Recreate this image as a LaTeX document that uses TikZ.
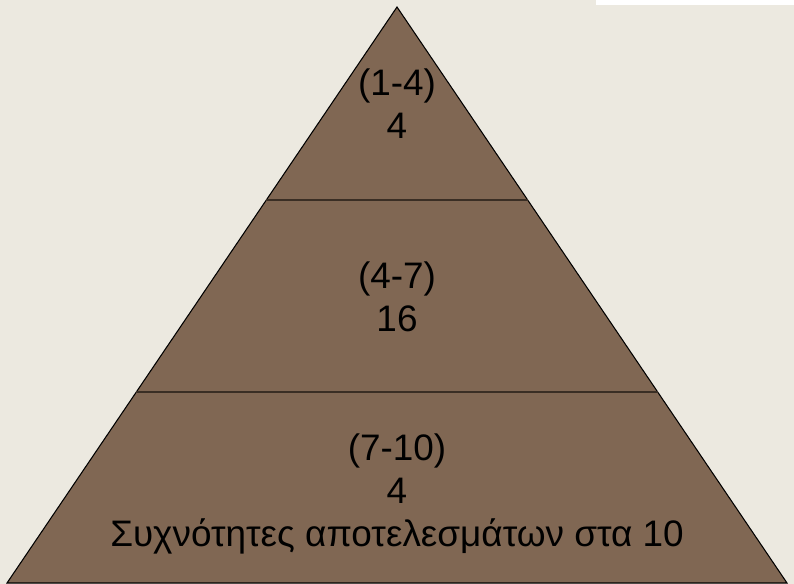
\documentclass[tikz,border=0pt]{standalone}
\usepackage{fontspec}
\setmainfont{Liberation Sans}
\usetikzlibrary{calc}
\definecolor{slidebg}{RGB}{236,233,224}
\definecolor{pyrfill}{RGB}{128,103,83}
\definecolor{tierline}{RGB}{58,46,36}
\tikzset{tier/.style={align=center, font=\fontsize{21}{24.4}\selectfont, inner sep=0pt}}

\begin{document}
\begin{tikzpicture}[x=0.02cm, y=-0.02cm]
% Background
\fill[slidebg] (0,0) rectangle (794,584);
\useasboundingbox (0,0) rectangle (794,584);
\fill[white] (596,0) rectangle (794,5);

% Pyramid
\coordinate (apex) at (397,7);
\coordinate (bl) at (7,583);
\coordinate (br) at (787,583);
\filldraw[fill=pyrfill, draw=black, line width=0.6pt] (apex) -- (br) -- (bl) -- cycle;

% Tier borders
\draw[tierline, line width=1.2pt] ($(apex)!0.335!(bl)$) -- ($(apex)!0.335!(br)$);
\draw[tierline, line width=1.2pt] ($(apex)!0.668!(bl)$) -- ($(apex)!0.668!(br)$);

% Tier labels
\node[tier] (tiertop) at (397,104) {(1-4)\\4};
\node[tier] (tiermid) at (397,297) {(4-7)\\16};
\node[tier] (tierlow) at (397,494) {(7-10)\\4\\Συχνότητες αποτελεσμάτων στα 10};
\end{tikzpicture}
\end{document}
